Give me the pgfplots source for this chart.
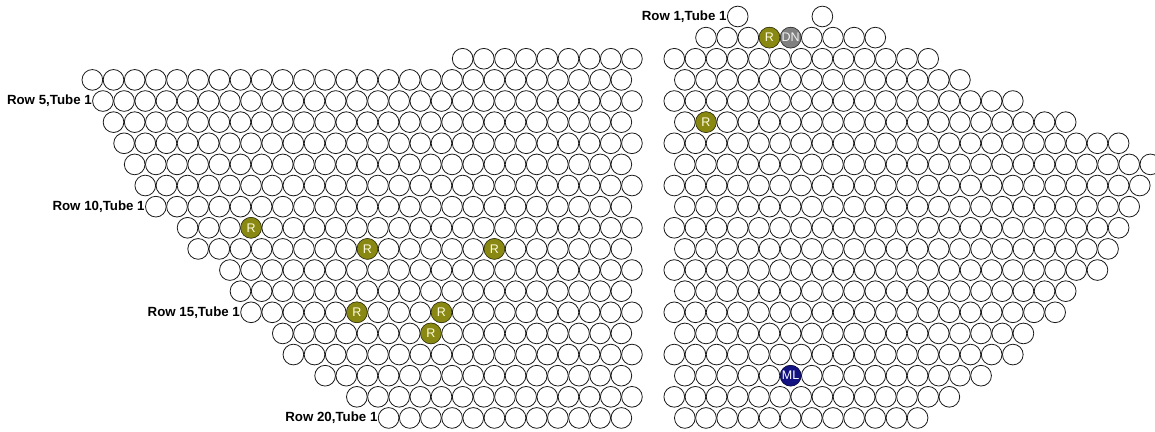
\documentclass[border=0pt]{standalone}
\usepackage{pgfplots}
\pgfplotsset{compat=1.18}
\usepackage{fontspec}
\setmainfont{Liberation Sans}
\definecolor{rcol}{RGB}{136,136,18}
\definecolor{dncol}{RGB}{128,128,128}
\definecolor{mlcol}{RGB}{18,18,130}
\definecolor{ring}{RGB}{25,25,25}
\tikzset{lab/.style={font=\fontsize{12.5}{12.5}\selectfont, anchor=center, inner sep=0pt},
  rowlab/.style={anchor=east, inner sep=0pt, xshift=-11pt, font=\bfseries\fontsize{13.3}{13.3}\selectfont}}
\begin{document}
\begin{tikzpicture}
\begin{axis}[
  scale only axis, width=1155pt, height=432pt,
  xmin=-66.73, xmax=42.44, ymin=0.219, ymax=20.664, y dir=reverse,
  hide axis, clip=true, clip marker paths=true,
  tubes/.style={only marks, mark=*, mark size=10.35pt,
    mark options={fill=white, draw=ring, line width=0.8pt}},
]
% ---- left bundle ----
\addplot[tubes] coordinates {
(-23,3) (-21,3) (-19,3) (-17,3) (-15,3) (-13,3) (-11,3) (-9,3) (-7,3)
(-58,4) (-56,4) (-54,4) (-52,4) (-50,4) (-48,4) (-46,4) (-44,4) (-42,4) (-40,4) (-38,4) (-36,4) (-34,4) (-32,4) (-30,4) (-28,4) (-26,4) (-24,4) (-22,4) (-20,4) (-18,4) (-16,4) (-14,4) (-12,4) (-10,4) (-8,4)
(-57,5) (-55,5) (-53,5) (-51,5) (-49,5) (-47,5) (-45,5) (-43,5) (-41,5) (-39,5) (-37,5) (-35,5) (-33,5) (-31,5) (-29,5) (-27,5) (-25,5) (-23,5) (-21,5) (-19,5) (-17,5) (-15,5) (-13,5) (-11,5) (-9,5) (-7,5)
(-56,6) (-54,6) (-52,6) (-50,6) (-48,6) (-46,6) (-44,6) (-42,6) (-40,6) (-38,6) (-36,6) (-34,6) (-32,6) (-30,6) (-28,6) (-26,6) (-24,6) (-22,6) (-20,6) (-18,6) (-16,6) (-14,6) (-12,6) (-10,6) (-8,6)
(-55,7) (-53,7) (-51,7) (-49,7) (-47,7) (-45,7) (-43,7) (-41,7) (-39,7) (-37,7) (-35,7) (-33,7) (-31,7) (-29,7) (-27,7) (-25,7) (-23,7) (-21,7) (-19,7) (-17,7) (-15,7) (-13,7) (-11,7) (-9,7) (-7,7)
(-54,8) (-52,8) (-50,8) (-48,8) (-46,8) (-44,8) (-42,8) (-40,8) (-38,8) (-36,8) (-34,8) (-32,8) (-30,8) (-28,8) (-26,8) (-24,8) (-22,8) (-20,8) (-18,8) (-16,8) (-14,8) (-12,8) (-10,8) (-8,8)
(-53,9) (-51,9) (-49,9) (-47,9) (-45,9) (-43,9) (-41,9) (-39,9) (-37,9) (-35,9) (-33,9) (-31,9) (-29,9) (-27,9) (-25,9) (-23,9) (-21,9) (-19,9) (-17,9) (-15,9) (-13,9) (-11,9) (-9,9) (-7,9)
(-52,10) (-50,10) (-48,10) (-46,10) (-44,10) (-42,10) (-40,10) (-38,10) (-36,10) (-34,10) (-32,10) (-30,10) (-28,10) (-26,10) (-24,10) (-22,10) (-20,10) (-18,10) (-16,10) (-14,10) (-12,10) (-10,10) (-8,10)
(-49,11) (-47,11) (-45,11) (-43,11) (-41,11) (-39,11) (-37,11) (-35,11) (-33,11) (-31,11) (-29,11) (-27,11) (-25,11) (-23,11) (-21,11) (-19,11) (-17,11) (-15,11) (-13,11) (-11,11) (-9,11) (-7,11)
(-48,12) (-46,12) (-44,12) (-42,12) (-40,12) (-38,12) (-36,12) (-34,12) (-32,12) (-30,12) (-28,12) (-26,12) (-24,12) (-22,12) (-20,12) (-18,12) (-16,12) (-14,12) (-12,12) (-10,12) (-8,12)
(-45,13) (-43,13) (-41,13) (-39,13) (-37,13) (-35,13) (-33,13) (-31,13) (-29,13) (-27,13) (-25,13) (-23,13) (-21,13) (-19,13) (-17,13) (-15,13) (-13,13) (-11,13) (-9,13) (-7,13)
(-44,14) (-42,14) (-40,14) (-38,14) (-36,14) (-34,14) (-32,14) (-30,14) (-28,14) (-26,14) (-24,14) (-22,14) (-20,14) (-18,14) (-16,14) (-14,14) (-12,14) (-10,14) (-8,14)
(-43,15) (-41,15) (-39,15) (-37,15) (-35,15) (-33,15) (-31,15) (-29,15) (-27,15) (-25,15) (-23,15) (-21,15) (-19,15) (-17,15) (-15,15) (-13,15) (-11,15) (-9,15) (-7,15)
(-40,16) (-38,16) (-36,16) (-34,16) (-32,16) (-30,16) (-28,16) (-26,16) (-24,16) (-22,16) (-20,16) (-18,16) (-16,16) (-14,16) (-12,16) (-10,16) (-8,16)
(-39,17) (-37,17) (-35,17) (-33,17) (-31,17) (-29,17) (-27,17) (-25,17) (-23,17) (-21,17) (-19,17) (-17,17) (-15,17) (-13,17) (-11,17) (-9,17) (-7,17)
(-36,18) (-34,18) (-32,18) (-30,18) (-28,18) (-26,18) (-24,18) (-22,18) (-20,18) (-18,18) (-16,18) (-14,18) (-12,18) (-10,18) (-8,18)
(-33,19) (-31,19) (-29,19) (-27,19) (-25,19) (-23,19) (-21,19) (-19,19) (-17,19) (-15,19) (-13,19) (-11,19) (-9,19) (-7,19)
(-30,20) (-28,20) (-26,20) (-24,20) (-22,20) (-20,20) (-18,20) (-16,20) (-14,20) (-12,20) (-10,20) (-8,20)
};
% ---- right bundle ----
\addplot[tubes] coordinates {
(3,1) (11,1)
(0,2) (2,2) (4,2) (6,2) (8,2) (10,2) (12,2) (14,2) (16,2)
(-3,3) (-1,3) (1,3) (3,3) (5,3) (7,3) (9,3) (11,3) (13,3) (15,3) (17,3) (19,3) (21,3)
(-2,4) (0,4) (2,4) (4,4) (6,4) (8,4) (10,4) (12,4) (14,4) (16,4) (18,4) (20,4) (22,4) (24,4)
(-3,5) (-1,5) (1,5) (3,5) (5,5) (7,5) (9,5) (11,5) (13,5) (15,5) (17,5) (19,5) (21,5) (23,5) (25,5) (27,5) (29,5)
(-2,6) (0,6) (2,6) (4,6) (6,6) (8,6) (10,6) (12,6) (14,6) (16,6) (18,6) (20,6) (22,6) (24,6) (26,6) (28,6) (30,6) (32,6) (34,6)
(-3,7) (-1,7) (1,7) (3,7) (5,7) (7,7) (9,7) (11,7) (13,7) (15,7) (17,7) (19,7) (21,7) (23,7) (25,7) (27,7) (29,7) (31,7) (33,7) (35,7) (37,7) (39,7)
(-2,8) (0,8) (2,8) (4,8) (6,8) (8,8) (10,8) (12,8) (14,8) (16,8) (18,8) (20,8) (22,8) (24,8) (26,8) (28,8) (30,8) (32,8) (34,8) (36,8) (38,8) (40,8) (42,8)
(-3,9) (-1,9) (1,9) (3,9) (5,9) (7,9) (9,9) (11,9) (13,9) (15,9) (17,9) (19,9) (21,9) (23,9) (25,9) (27,9) (29,9) (31,9) (33,9) (35,9) (37,9) (39,9) (41,9)
(-2,10) (0,10) (2,10) (4,10) (6,10) (8,10) (10,10) (12,10) (14,10) (16,10) (18,10) (20,10) (22,10) (24,10) (26,10) (28,10) (30,10) (32,10) (34,10) (36,10) (38,10) (40,10)
(-3,11) (-1,11) (1,11) (3,11) (5,11) (7,11) (9,11) (11,11) (13,11) (15,11) (17,11) (19,11) (21,11) (23,11) (25,11) (27,11) (29,11) (31,11) (33,11) (35,11) (37,11) (39,11)
(-2,12) (0,12) (2,12) (4,12) (6,12) (8,12) (10,12) (12,12) (14,12) (16,12) (18,12) (20,12) (22,12) (24,12) (26,12) (28,12) (30,12) (32,12) (34,12) (36,12) (38,12)
(-3,13) (-1,13) (1,13) (3,13) (5,13) (7,13) (9,13) (11,13) (13,13) (15,13) (17,13) (19,13) (21,13) (23,13) (25,13) (27,13) (29,13) (31,13) (33,13) (35,13) (37,13)
(-2,14) (0,14) (2,14) (4,14) (6,14) (8,14) (10,14) (12,14) (14,14) (16,14) (18,14) (20,14) (22,14) (24,14) (26,14) (28,14) (30,14) (32,14) (34,14)
(-3,15) (-1,15) (1,15) (3,15) (5,15) (7,15) (9,15) (11,15) (13,15) (15,15) (17,15) (19,15) (21,15) (23,15) (25,15) (27,15) (29,15) (31,15) (33,15)
(-2,16) (0,16) (2,16) (4,16) (6,16) (8,16) (10,16) (12,16) (14,16) (16,16) (18,16) (20,16) (22,16) (24,16) (26,16) (28,16) (30,16)
(-3,17) (-1,17) (1,17) (3,17) (5,17) (7,17) (9,17) (11,17) (13,17) (15,17) (17,17) (19,17) (21,17) (23,17) (25,17) (27,17) (29,17)
(-2,18) (0,18) (2,18) (4,18) (6,18) (8,18) (10,18) (12,18) (14,18) (16,18) (18,18) (20,18) (22,18) (24,18) (26,18)
(-3,19) (-1,19) (1,19) (3,19) (5,19) (7,19) (9,19) (11,19) (13,19) (15,19) (17,19) (19,19) (21,19) (23,19)
(-2,20) (0,20) (2,20) (4,20) (6,20) (8,20) (10,20) (12,20) (14,20) (16,20) (18,20) (20,20)
};
% ---- marked tubes ----
\addplot[tubes, mark options={fill=rcol, draw=black!60!rcol},
  nodes near coords={R}, nodes near coords align=center,
  every node near coord/.append style={lab, text=white!88!yellow}] coordinates {
(6,2) (0,6) (-43,11) (-32,12) (-20,12) (-33,15) (-25,15) (-26,16)
};
\addplot[tubes, mark options={fill=dncol, draw=black!60!dncol},
  nodes near coords={DN}, nodes near coords align=center,
  every node near coord/.append style={lab, text=white!90!gray}] coordinates {(8,2)};
\addplot[tubes, mark options={fill=mlcol, draw=black!40!mlcol},
  nodes near coords={ML}, nodes near coords align=center,
  every node near coord/.append style={lab, text=white}] coordinates {(8,18)};
% ---- row labels ----
\node[rowlab] at (axis cs:3,1) {Row 1,Tube 1};
\node[rowlab] at (axis cs:-57,5) {Row 5,Tube 1};
\node[rowlab] at (axis cs:-52,10) {Row 10,Tube 1};
\node[rowlab] at (axis cs:-43,15) {Row 15,Tube 1};
\node[rowlab] at (axis cs:-30,20) {Row 20,Tube 1};
\end{axis}
\pgfresetboundingbox
\path[use as bounding box] (current axis.south west) rectangle (current axis.north east);
\end{tikzpicture}
\end{document}
